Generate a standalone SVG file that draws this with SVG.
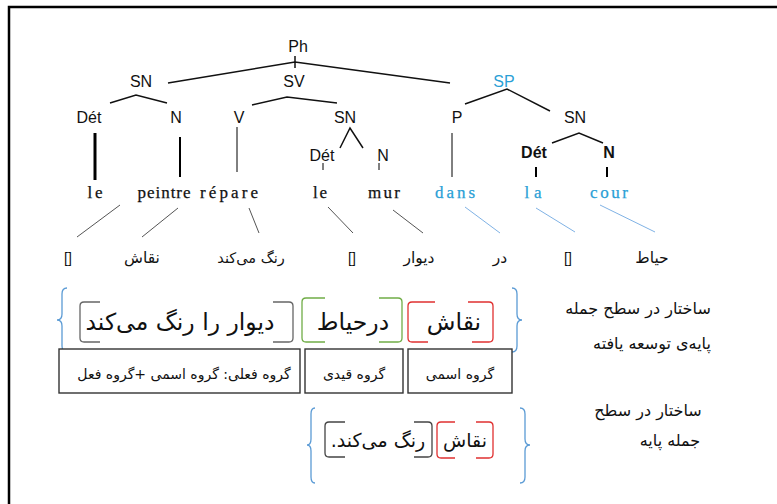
<svg xmlns="http://www.w3.org/2000/svg" width="777" height="504" viewBox="0 0 777 504">
<style>
.lab{font-family:"Liberation Sans",Arial,sans-serif;font-size:16px;fill:#111;text-anchor:middle}
.blue{fill:#2a9fd6}
.w{font-family:"Liberation Serif","Times New Roman",serif;font-size:17px;fill:#111;text-anchor:middle;stroke:#111;stroke-width:0.25}
.w.blue{fill:#2a9fd6;stroke:#2a9fd6}
.fa{font-family:"DejaVu Sans","Noto Sans",sans-serif;fill:#111;text-anchor:middle;direction:rtl;unicode-bidi:embed}
.br{font-family:"Liberation Sans",Arial,sans-serif;font-size:14px;fill:#111;text-anchor:middle}
.tl{stroke:#111;fill:none;stroke-width:1.5}
.cn{stroke:#555;stroke-width:1;fill:none}
.cb{stroke:#7fb2e5;stroke-width:1;fill:none}
.brace{stroke:#5b9bd5;stroke-width:1.3;fill:none}
.bk{fill:none;stroke-width:1.3}
.box{fill:#fff;stroke:#333;stroke-width:1.4}
</style>
<rect width="777" height="504" fill="#fff"/>
<g id="frame" stroke="#000" stroke-width="2.5" fill="none">
<path d="M9,504 L9,7 L777,7"/>
</g>

<g id="connectors">
<path class="tl" d="M168,83 L295,62 L450,83"/>
<path class="tl" d="M295,56 L295,68"/>
<path class="tl" d="M110,103 L136,95 L167,103"/>
<path class="tl" d="M252,105 L287,97 L337,103"/>
<path class="tl" d="M340,148 L350,128 L363,148"/>
<path class="tl" d="M465,104 L507,89 L550,111"/>
<path class="tl" d="M552,143 L579,133 L603,143"/>
<path stroke="#000" stroke-width="3" d="M95,133 L95,180"/>
<path stroke="#000" stroke-width="2" d="M180,137 L180,177"/>
<path stroke="#000" stroke-width="1" d="M237,127 L237,172"/>
<path stroke="#000" stroke-width="1" d="M323,163 L323,170"/>
<path stroke="#000" stroke-width="1" d="M379,163 L379,170"/>
<path stroke="#000" stroke-width="1" d="M452,133 L452,177"/>
<path stroke="#000" stroke-width="2" d="M536,167 L536,177"/>
<path stroke="#000" stroke-width="2" d="M607,167 L607,177"/>
<path class="cn" d="M120,205 L77,237"/>
<path class="cn" d="M178,208 L142,237"/>
<path class="cn" d="M249,208 L259,233"/>
<path class="cn" d="M328,207 L353,233"/>
<path class="cn" d="M393,210 L423,233"/>
<path class="cb" d="M465,207 L500,233"/>
<path class="cb" d="M536,208 L575,232"/>
<path class="cb" d="M600,205 L655,232"/>
</g>

<g id="tree-labels">
<g id="n-ph"><text class="lab" x="298" y="52">Ph</text></g>
<g id="n-sn1"><text class="lab" x="141" y="87">SN</text></g>
<g id="n-sv"><text class="lab" x="294" y="87">SV</text></g>
<g id="n-sp"><text class="lab blue" x="504" y="87">SP</text></g>
<g id="n-det1"><text class="lab" x="89" y="123">Dét</text></g>
<g id="n-n1"><text class="lab" x="176" y="123">N</text></g>
<g id="n-v"><text class="lab" x="239" y="123">V</text></g>
<g id="n-sn2"><text class="lab" x="345" y="123">SN</text></g>
<g id="n-p"><text class="lab" x="457" y="123">P</text></g>
<g id="n-sn3"><text class="lab" x="575" y="123">SN</text></g>
<g id="n-det2"><text class="lab" x="322" y="161">Dét</text></g>
<g id="n-n2"><text class="lab" x="383" y="161">N</text></g>
<g id="n-det3"><text class="lab" x="534" y="158" font-weight="bold">Dét</text></g>
<g id="n-n3"><text class="lab" x="609" y="158" font-weight="bold">N</text></g>
</g>

<g id="words">
<g id="w-le1"><text class="w" x="95" y="198" textLength="15">le</text></g>
<g id="w-peintre"><text class="w" x="164" y="198" textLength="53">peintre</text></g>
<g id="w-repare"><text class="w" x="229" y="198" textLength="58">répare</text></g>
<g id="w-le2"><text class="w" x="320" y="198" textLength="14">le</text></g>
<g id="w-mur"><text class="w" x="384" y="198" textLength="32">mur</text></g>
<g id="w-dans"><text class="w blue" x="455" y="198" textLength="40">dans</text></g>
<g id="w-la"><text class="w blue" x="533" y="198" textLength="17">la</text></g>
<g id="w-cour"><text class="w blue" x="609" y="198" textLength="38">cour</text></g>
</g>

<g id="translations">
<g id="t-1"><text class="br" x="68" y="263">[]</text></g>
<g id="t-2"><text class="fa" x="142" y="263" font-size="15.5">نقاش</text></g>
<g id="t-3"><text class="fa" x="251" y="263" font-size="14.5">رنگ می‌کند</text></g>
<g id="t-4"><text class="br" x="352" y="263">[]</text></g>
<g id="t-5"><text class="fa" x="419" y="263" font-size="15.5">دیوار</text></g>
<g id="t-6"><text class="fa" x="500" y="263" font-size="15.5">در</text></g>
<g id="t-7"><text class="br" x="568" y="263">[]</text></g>
<g id="t-8"><text class="fa" x="652" y="263" font-size="15.5">حیاط</text></g>
</g>

<g id="expanded">
<path class="brace" d="M67,288 Q62,288 62,294 L62,314 Q62,320 57,320 Q62,320 62,326 L62,346 Q62,352 67,352"/>
<path class="brace" d="M512,288 Q517,288 517,294 L517,314 Q517,320 522,320 Q517,320 517,326 L517,346 Q517,352 512,352"/>
<g id="b-verb">
<path class="bk" stroke="#666" d="M100,302 L84,302 Q80,302 80,306 L80,338 Q80,342 84,342 L100,342"/>
<path class="bk" stroke="#666" d="M273,302 L289,302 Q293,302 293,306 L293,338 Q293,342 289,342 L273,342"/>
<text class="fa" x="180" y="330" font-size="23.5">دیوار را رنگ می‌کند</text>
</g>
<g id="b-adv">
<path class="bk" stroke="#70ad47" d="M325,298 L306,298 Q302,298 302,302 L302,338 Q302,342 306,342 L325,342"/>
<path class="bk" stroke="#70ad47" d="M379,298 L398,298 Q402,298 402,302 L402,338 Q402,342 398,342 L379,342"/>
<text class="fa" x="353" y="330" font-size="23.5">درحیاط</text>
</g>
<g id="b-noun">
<path class="bk" stroke="#e03030" d="M435,302 L412,302 Q408,302 408,306 L408,338 Q408,342 412,342 L428,342"/>
<path class="bk" stroke="#e03030" d="M468,302 L489,302 Q493,302 493,306 L493,338 Q493,342 489,342 L472,342"/>
<text class="fa" x="454" y="330" font-size="23.5">نقاش</text>
</g>
<g id="l-verb"><rect class="box" x="59" y="349" width="241" height="44"/><text class="fa" x="184" y="379" font-size="14">گروه فعلی: گروه اسمی +گروه فعل</text></g>
<g id="l-adv"><rect class="box" x="305" y="349" width="98" height="44"/><text class="fa" x="354" y="379" font-size="14">گروه قیدی</text></g>
<g id="l-noun"><rect class="box" x="408" y="349" width="104" height="44"/><text class="fa" x="460" y="379" font-size="14">گروه اسمی</text></g>
<g id="cap1">
<text class="fa" x="638" y="314" font-size="16">ساختار در سطح جمله</text>
<text class="fa" x="652" y="349" font-size="16">پایه‌ی توسعه یافته</text>
</g>
</g>

<g id="base">
<path class="brace" d="M315,408 Q311,408 311,414 L311,439 Q311,445 307,445 Q311,445 311,451 L311,477 Q311,483 315,483"/>
<path class="brace" d="M520,408 Q525,408 525,414 L525,439 Q525,445 530,445 Q525,445 525,451 L525,477 Q525,483 520,483"/>
<g id="b-base-verb">
<path class="bk" stroke="#444" d="M345,422 L329,422 Q325,422 325,426 L325,453 Q325,457 329,457 L345,457"/>
<path class="bk" stroke="#444" d="M414,422 L428,422 Q432,422 432,426 L432,453 Q432,457 428,457 L414,457"/>
<text class="fa" x="378" y="447" font-size="19">رنگ می‌کند.</text>
</g>
<g id="b-base-noun">
<path class="bk" stroke="#e03030" d="M455,422 L441,422 Q437,422 437,426 L437,454 Q437,458 441,458 L455,458"/>
<path class="bk" stroke="#e03030" d="M476,422 L489,422 Q493,422 493,426 L493,454 Q493,458 489,458 L476,458"/>
<text class="fa" x="465" y="447" font-size="19">نقاش</text>
</g>
<g id="cap2">
<text class="fa" x="648" y="416" font-size="16">ساختار در سطح</text>
<text class="fa" x="670" y="446" font-size="16">جمله پایه</text>
</g>
</g>
</svg>
